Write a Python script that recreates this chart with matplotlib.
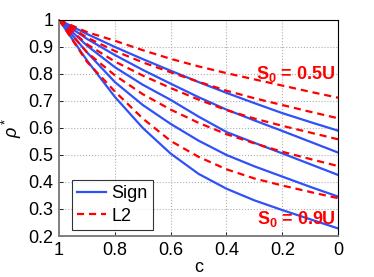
import numpy as np
import matplotlib
matplotlib.use('Agg')
import matplotlib.pyplot as plt

matplotlib.rcParams['font.family'] = ['Liberation Sans', 'DejaVu Sans']
matplotlib.rcParams['mathtext.fontset'] = 'custom'
matplotlib.rcParams['mathtext.rm'] = 'Liberation Sans'
matplotlib.rcParams['mathtext.it'] = 'Liberation Sans:italic'
matplotlib.rcParams['mathtext.bf'] = 'Liberation Sans:bold'

# data
c = [1.0, 0.9, 0.8, 0.7, 0.6, 0.5, 0.4, 0.3, 0.2, 0.1, 0.0]

sign_1 = [1.0, 0.948, 0.900, 0.855, 0.812, 0.770, 0.730, 0.692, 0.655, 0.622, 0.590]
sign_2 = [1.0, 0.930, 0.870, 0.815, 0.764, 0.714, 0.668, 0.628, 0.589, 0.549, 0.509]
sign_3 = [1.0, 0.905, 0.825, 0.760, 0.704, 0.642, 0.585, 0.545, 0.506, 0.466, 0.426]
sign_4 = [1.0, 0.880, 0.770, 0.685, 0.615, 0.553, 0.500, 0.458, 0.420, 0.382, 0.346]
sign_5 = [1.0, 0.850, 0.715, 0.600, 0.505, 0.430, 0.375, 0.332, 0.296, 0.262, 0.228]

l2_1 = [1.0, 0.955, 0.923, 0.888, 0.856, 0.828, 0.803, 0.780, 0.757, 0.734, 0.712]
l2_2 = [1.0, 0.935, 0.885, 0.843, 0.806, 0.771, 0.738, 0.710, 0.685, 0.660, 0.636]
l2_3 = [1.0, 0.910, 0.846, 0.794, 0.748, 0.705, 0.666, 0.635, 0.608, 0.583, 0.558]
l2_4 = [1.0, 0.880, 0.795, 0.725, 0.668, 0.619, 0.577, 0.543, 0.512, 0.485, 0.459]
l2_5 = [1.0, 0.845, 0.735, 0.635, 0.552, 0.493, 0.447, 0.413, 0.387, 0.363, 0.340]

sign_curves = [sign_1, sign_2, sign_3, sign_4, sign_5]
l2_curves = [l2_1, l2_2, l2_3, l2_4, l2_5]

blue = '#3050f8'
red = '#ff0000'

fig = plt.figure(figsize=(3.74, 2.77), dpi=100)
ax = fig.add_axes([0.158, 0.148, 0.746, 0.78])

for i, y in enumerate(sign_curves):
    ax.plot(c, y, color=blue, lw=1.6, label='Sign' if i == 0 else None)
for i, y in enumerate(l2_curves):
    ax.plot(c, y, color=red, lw=1.6, ls=(0, (3.2, 2.2)), label='L2' if i == 0 else None)

ax.set_xlim(1, 0)
ax.set_ylim(0.2, 1)
ax.set_xticks([1, 0.8, 0.6, 0.4, 0.2, 0])
ax.set_xticklabels(['1', '0.8', '0.6', '0.4', '0.2', '0'])
ax.set_yticks(np.arange(0.2, 1.01, 0.1))
ax.set_yticklabels(['0.2', '0.3', '0.4', '0.5', '0.6', '0.7', '0.8', '0.9', '1'])
ax.tick_params(direction='in', labelsize=13, length=3, width=0.6, pad=4)
ax.grid(True, linestyle=':', color='#b0b0b0', linewidth=0.8)

for s in ['left', 'bottom']:
    ax.spines[s].set_color('#808080')
    ax.spines[s].set_linewidth(1.4)
for s in ['top', 'right']:
    ax.spines[s].set_color('black')
    ax.spines[s].set_linewidth(0.8)

ax.set_xlabel('c', fontsize=13, labelpad=0)
ax.set_ylabel(r'$\rho^*$', fontsize=13, labelpad=3)

ax.text(0.01, 0.80, r'$\mathbf{S_0}$ = 0.5U', color=red, fontsize=13,
        fontweight='bold', ha='right', va='center')
ax.text(0.01, 0.262, r'$\mathbf{S_0}$ = 0.9U', color=red, fontsize=13,
        fontweight='bold', ha='right', va='center')

leg = ax.legend(loc='lower left', fontsize=13, frameon=True, fancybox=False,
                edgecolor='black', handlelength=1.6, handletextpad=0.3,
                borderpad=0.3, labelspacing=0.3, borderaxespad=0,
                bbox_to_anchor=(0.045, 0.028))
leg.get_frame().set_linewidth(0.8)

plt.savefig('out.png', dpi=100)
